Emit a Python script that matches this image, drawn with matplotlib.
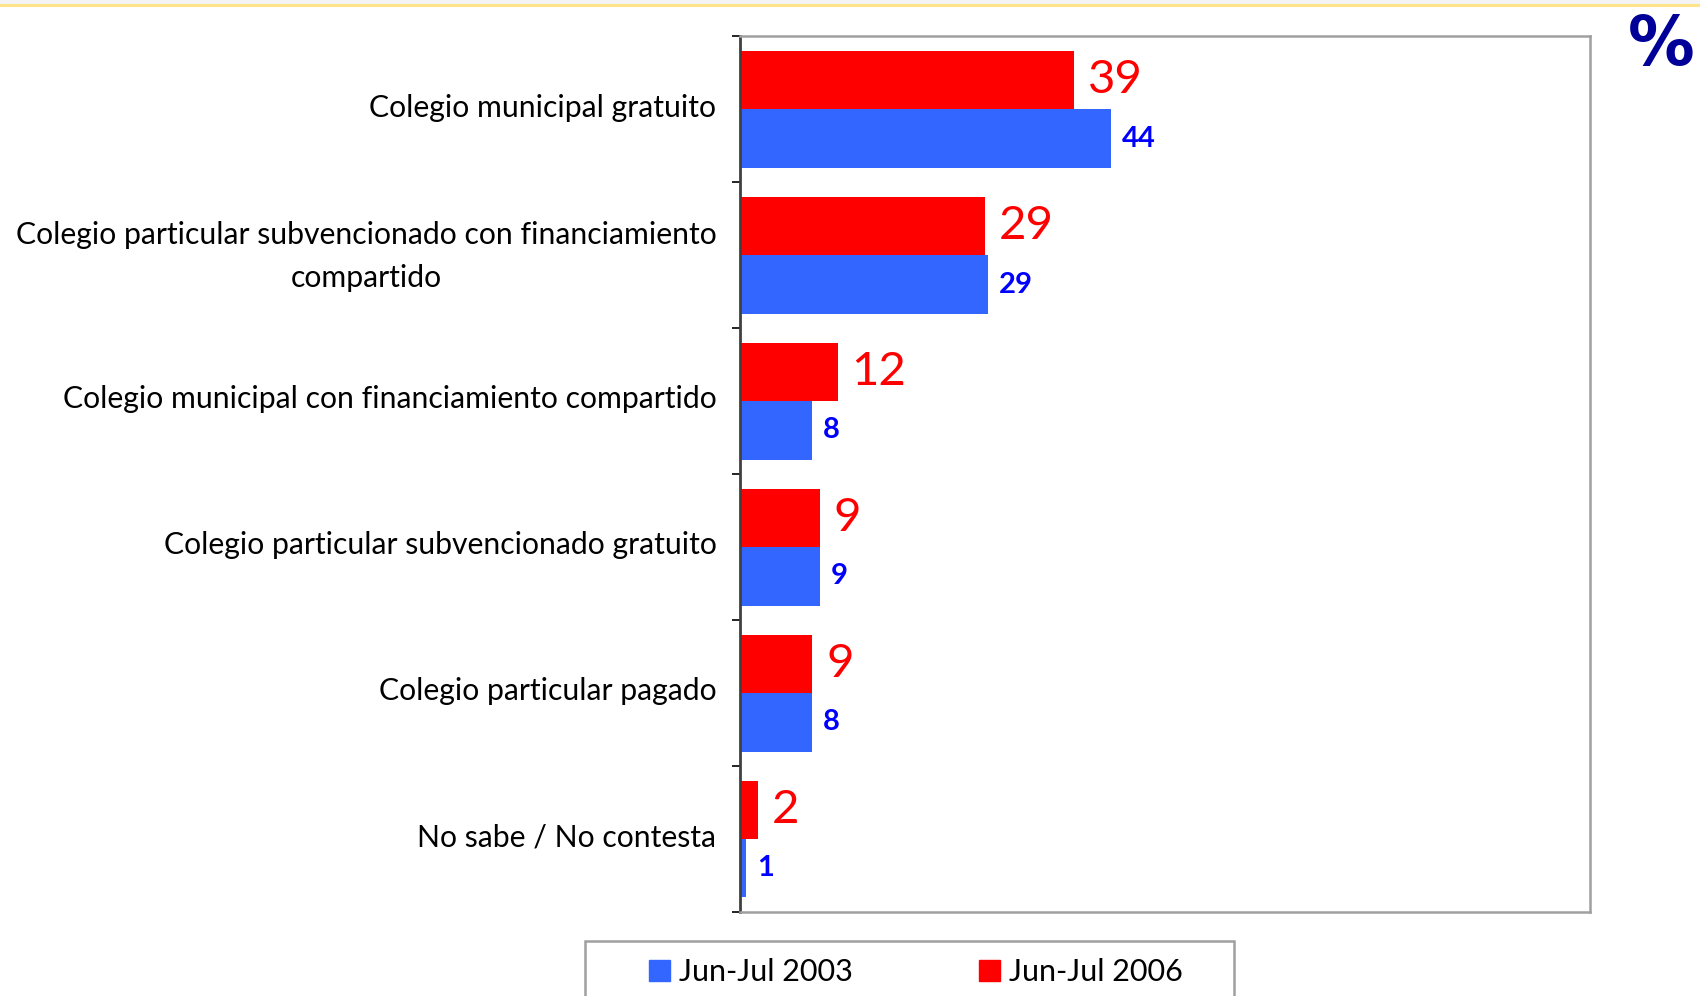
import matplotlib.pyplot as plt
from matplotlib.patches import Rectangle, Patch
from matplotlib.lines import Line2D

# Data (labels as printed)
categories = [
    'Colegio municipal gratuito',
    'Colegio particular subvencionado con financiamiento\ncompartido',
    'Colegio municipal con financiamiento compartido',
    'Colegio particular subvencionado gratuito',
    'Colegio particular pagado',
    'No sabe / No contesta',
]
values_2003 = [43.6, 29.2, 8.5, 9.4, 8.5, 0.7]
values_2006 = [39.3, 28.8, 11.5, 9.4, 8.5, 2.1]
labels_2003 = ['44', '29', '8', '9', '8', '1']
labels_2006 = ['39', '29', '12', '9', '9', '2']
series_names = ['Jun-Jul 2003', 'Jun-Jul 2006']

red = '#FF0000'
blue_bar = '#3366FF'
blue_txt = '#0000FF'

plt.rcParams['font.family'] = ['Lato', 'DejaVu Sans']

fig = plt.figure(figsize=(17, 9.96), dpi=100)
ax = fig.add_axes([0.4353, 0.0843, 0.5, 0.8791])

y = list(range(len(categories)))
y_red = [i - 0.2 for i in y]
y_blue = [i + 0.2 for i in y]
ax.barh(y_red, values_2006, height=0.4, color=red)
ax.barh(y_blue, values_2003, height=0.4, color=blue_bar)

for yy, v, lab in zip(y_red, values_2006, labels_2006):
    ax.annotate(lab, (v, yy), xytext=(10, 0), textcoords='offset points',
                ha='left', va='center', color=red, fontsize=34)
for yy, v, lab in zip(y_blue, values_2003, labels_2003):
    ax.annotate(lab, (v, yy), xytext=(8, 0), textcoords='offset points',
                ha='left', va='center', color=blue_txt, fontsize=21,
                fontweight='bold')

ax.set_xlim(0, 100)
ax.set_ylim(len(categories) - 0.5, -0.5)
ax.set_xticks([])
# label 2 wraps on two lines and sits a touch higher
label_pos = [i - (0.06 if '\n' in c else 0.03) for i, c in zip(y, categories)]
ax.set_yticks(label_pos)
ax.set_yticklabels(categories, fontsize=21.7, multialignment='center',
                   linespacing=1.65)
ax.set_yticks([i - 0.5 for i in range(len(categories) + 1)], minor=True)
ax.tick_params(axis='y', which='major', length=0, pad=17)
ax.tick_params(axis='y', which='minor', length=6, width=1.2, color='black')

for side in ['top', 'right', 'bottom']:
    ax.spines[side].set_color('#a0a0a0')
    ax.spines[side].set_linewidth(1.8)
ax.spines['left'].set_color('#404040')
ax.spines['left'].set_linewidth(2)

# top band
fig.add_artist(Rectangle((0, 1 - 4 / 996), 1, 4 / 996, transform=fig.transFigure,
                         color='#f4f4f4', lw=0))
fig.add_artist(Line2D([0, 1], [1 - 5 / 996, 1 - 5 / 996], transform=fig.transFigure,
                      color='#FFE38A', lw=2.2))

fig.text(1628 / 1700, 1 - 13 / 996, '%', ha='left', va='top', color='#000099',
         fontsize=48, fontweight='bold', family='DejaVu Sans')

# legend
fig.add_artist(Rectangle((585 / 1700, -0.05), 649 / 1700, 0.05 + 1 - 941 / 996,
                         transform=fig.transFigure, facecolor='white',
                         edgecolor='#a0a0a0', lw=1.8))
handles = [Patch(color=blue_bar), Patch(color=red)]
fig.legend(handles, series_names, loc='center', bbox_to_anchor=(916 / 1700, 1 - 972 / 996),
           ncol=2, frameon=False, handlelength=0.7, handleheight=0.7,
           handletextpad=0.3, columnspacing=4.1, borderpad=0,
           prop={'family': ['Lato', 'DejaVu Sans'], 'size': 22})

fig.savefig('out.png', dpi=100)
